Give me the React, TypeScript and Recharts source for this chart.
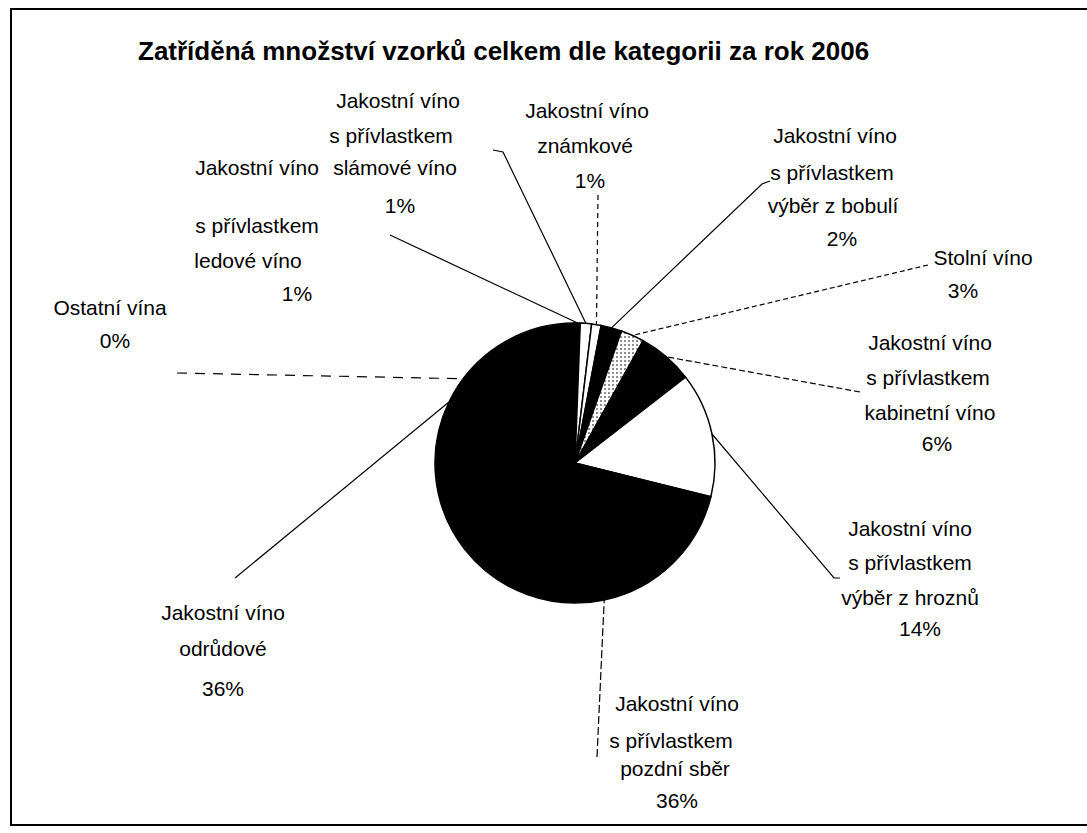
import { PieChart, Pie, Cell } from "recharts";

// categories in pie order, clockwise from 12 o'clock
const NAMES = [
  "Jakostní víno\ns přívlastkem\nledové víno",
  "Jakostní víno\ns přívlastkem\nslámové víno",
  "Jakostní víno\nznámkové",
  "Jakostní víno\ns přívlastkem\nvýběr z bobulí",
  "Stolní víno",
  "Jakostní víno\ns přívlastkem\nkabinetní víno",
  "Jakostní víno\ns přívlastkem\nvýběr z hroznů",
  "Jakostní víno\ns přívlastkem\npozdní sběr",
  "Jakostní víno\nodrůdové",
  "Ostatní vína",
];

// share of samples, % (labels round them)
const SHARES = [0.6, 1.3, 1.1, 2.4, 2.7, 6.4, 14.4, 35.6, 35.5, 0.1];

const FILLS = [
  "#000",
  "#fff",
  "#fff",
  "#000",
  "url(#dots)",
  "#000",
  "#fff",
  "#000",
  "#000",
  "#000",
];

const data = NAMES.map((name, i) => ({ name, value: SHARES[i] }));

// label placement, offsets from the pie centre (lines = text centres,
// from = where the leader line leaves the label)
type LabelLayout = {
  lines: number[][];
  from: number[][];
  dash?: string;
  edgeAngle?: number;
};

const LAYOUT: LabelLayout[] = [
  { lines: [[-318, -296], [-318, -238], [-327, -203], [-278, -170]], from: [[-185, -228]] },
  { lines: [[-177, -363], [-184, -328], [-180, -296], [-175, -258]], from: [[-82, -313], [-72, -311]] },
  { lines: [[12, -353], [10, -318], [15, -283]], from: [[23, -268]], dash: "5 4" },
  { lines: [[260, -328], [257, -291], [258, -258], [267, -225]], from: [[195, -282], [187, -279]] },
  { lines: [[408, -206], [388, -173]], from: [[353, -198]], dash: "5 3" },
  { lines: [[355, -121], [353, -86], [355, -51], [362, -20]], from: [[285, -71]], dash: "6 3" },
  { lines: [[335, 65], [335, 99], [335, 134], [345, 165]], from: [[265, 115], [259, 115]] },
  { lines: [[102, 240], [96, 277], [100, 305], [102, 337]], from: [[22, 294]], dash: "8 3" },
  { lines: [[-352, 149], [-352, 185], [-352, 225]], from: [[-340, 115]] },
  { lines: [[-465, -156], [-460, -123]], from: [[-398, -90]], dash: "10 8", edgeAngle: 143 },
];

const RAD = Math.PI / 180;
const FONT = "'Liberation Sans', Arial, sans-serif";

const renderLabel = (props: any) => {
  const { cx, cy, midAngle, outerRadius, index, value, name } = props;
  const lay = LAYOUT[index];
  const ang = lay.edgeAngle ?? midAngle;
  const ex = cx + outerRadius * Math.cos(-ang * RAD);
  const ey = cy + outerRadius * Math.sin(-ang * RAD);
  const pts = lay.from.map(([x, y]) => `${cx + x},${cy + y}`);
  pts.push(`${ex},${ey}`);
  const texts = [...String(name).split("\n"), `${Math.round(value)}%`];
  return (
    <g key={`lbl-${index}`}>
      <polyline
        points={pts.join(" ")}
        fill="none"
        stroke="#000"
        strokeWidth={1.2}
        strokeDasharray={lay.dash}
      />
      {texts.map((t, j) => (
        <text
          key={j}
          x={cx + lay.lines[j][0]}
          y={cy + lay.lines[j][1]}
          textAnchor="middle"
          dominantBaseline="central"
          fontFamily={FONT}
          fontSize={21}
          fill="#000"
        >
          {t}
        </text>
      ))}
    </g>
  );
};

export default function App() {
  return (
    <div style={{ position: "absolute", left: 0, top: 0, width: 1087, height: 833, background: "#fff" }}>
      <svg width={0} height={0} style={{ position: "absolute" }}>
        <defs>
          <pattern id="dots" width={4} height={4} patternUnits="userSpaceOnUse">
            <rect width={4} height={4} fill="#fff" />
            <circle cx={1} cy={1} r={0.8} fill="#000" />
          </pattern>
        </defs>
      </svg>
      <div
        style={{
          position: "absolute",
          left: 10,
          top: 8,
          width: 1077,
          height: 818,
          borderLeft: "2px solid #000",
          borderTop: "2px solid #000",
          borderBottom: "2px solid #000",
          boxSizing: "border-box",
        }}
      />
      <div
        style={{
          position: "absolute",
          left: 138,
          top: 36,
          fontFamily: FONT,
          fontWeight: "bold",
          fontSize: 26,
          whiteSpace: "nowrap",
          color: "#000",
        }}
      >
        Zatříděná množství vzorků celkem dle kategorii za rok 2006
      </div>
      <div style={{ position: "absolute", left: 0, top: 0 }}>
        <PieChart width={1087} height={833} margin={{ top: 0, right: 0, bottom: 0, left: 0 }}>
          <Pie
            data={data}
            dataKey="value"
            nameKey="name"
            cx={575}
            cy={463}
            outerRadius={140}
            startAngle={90}
            endAngle={-270}
            stroke="#000"
            strokeWidth={1.5}
            labelLine={false}
            label={renderLabel}
            isAnimationActive={false}
          >
            {data.map((d, i) => (
              <Cell key={d.name} fill={FILLS[i]} />
            ))}
          </Pie>
        </PieChart>
      </div>
    </div>
  );
}
